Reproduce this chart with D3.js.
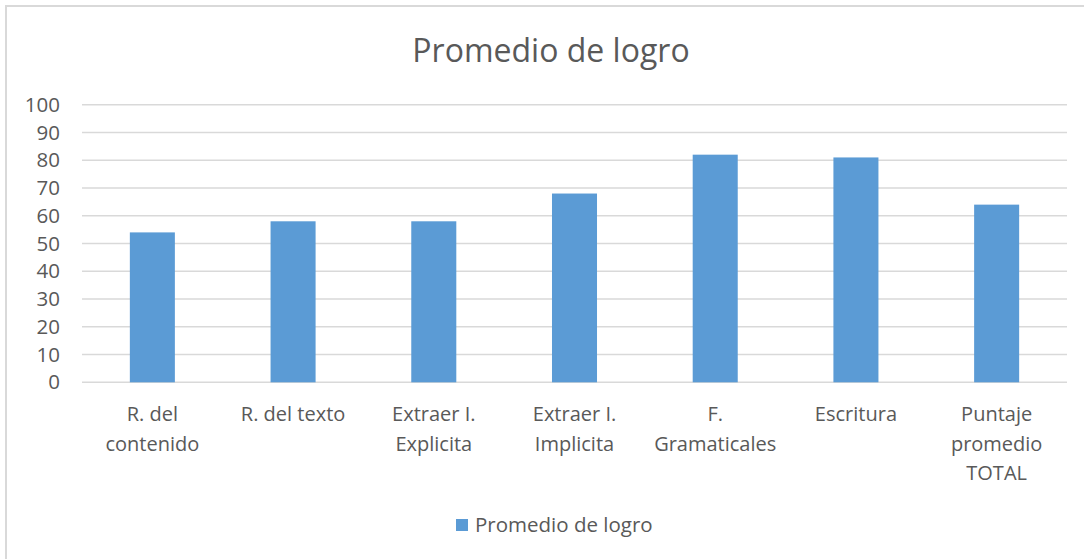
<!DOCTYPE html>
<html>
<head>
<meta charset="utf-8">
<script src="https://cdn.jsdelivr.net/npm/d3@7"></script>
<style>
  body { margin: 0; background: #fff; }
  text { font-family: "Open Sans", "Noto Sans", sans-serif; fill: #595959; }
</style>
</head>
<body>
<div class="canvas"></div>
<script>
// data
const categories = ["R. del contenido", "R. del texto", "Extraer I. Explicita", "Extraer I. Implicita", "F. Gramaticales", "Escritura", "Puntaje promedio TOTAL"];
const values = [54, 58, 58, 68, 82, 81, 64];
const yTicks = [0, 10, 20, 30, 40, 50, 60, 70, 80, 90, 100];
const seriesName = "Promedio de logro";
const chartTitle = "Promedio de logro";

const W = 1084, H = 559;
const plot = { left: 82, right: 1067, top: 104.7, bottom: 382.3 };
const barColor = "#5B9BD5";

const svg = d3.select(".canvas").append("svg")
  .attr("width", W)
  .attr("height", H);

// chart border
svg.append("rect")
  .attr("x", 6).attr("y", 6)
  .attr("width", 1091).attr("height", 570)
  .attr("fill", "#fff")
  .attr("stroke", "#d9d9d9")
  .attr("stroke-width", 2);

// title
svg.append("text")
  .attr("x", 551).attr("y", 62)
  .attr("text-anchor", "middle")
  .style("font-size", "32px")
  .text(chartTitle);

// scales
const x = d3.scaleBand()
  .domain(categories)
  .range([plot.left, plot.right])
  .paddingInner(0.68)
  .paddingOuter(0.34);
const y = d3.scaleLinear().domain([0, 100]).range([plot.bottom, plot.top]);

// gridlines
svg.append("g")
  .selectAll("line").data(yTicks).join("line")
  .attr("x1", plot.left).attr("x2", plot.right)
  .attr("y1", d => y(d)).attr("y2", d => y(d))
  .attr("stroke", "#d9d9d9")
  .attr("stroke-width", 1.5);

// y axis labels
const yAxis = d3.axisLeft(y).tickValues(yTicks).tickSize(0).tickPadding(22);
const yG = svg.append("g").attr("transform", `translate(${plot.left},0)`).call(yAxis);
yG.select(".domain").remove();
yG.selectAll("text").style("font-size", "20.5px").attr("fill", "#595959");

// bars
svg.append("g")
  .selectAll("rect").data(values).join("rect")
  .attr("x", (d, i) => x(categories[i]))
  .attr("y", d => y(d))
  .attr("width", x.bandwidth())
  .attr("height", d => y(0) - y(d))
  .attr("fill", barColor);

// x labels, wrapped
const xAxis = d3.axisBottom(x).tickSize(0).tickPadding(0);
const xG = svg.append("g").attr("transform", `translate(0,${plot.bottom})`).call(xAxis);
xG.select(".domain").remove();
xG.selectAll("text")
  .style("font-size", "20px")
  .attr("fill", "#595959")
  .each(function (d) {
    const t = d3.select(this);
    const words = d.split(" ");
    t.text(null).attr("y", 0).attr("dy", null);
    let lines = [], line = [];
    const probe = t.append("tspan");
    words.forEach(w => {
      const test = line.concat(w).join(" ");
      probe.text(test);
      if (probe.node().getComputedTextLength() > 132 && line.length) {
        lines.push(line.join(" "));
        line = [w];
      } else {
        line.push(w);
      }
    });
    lines.push(line.join(" "));
    probe.remove();
    lines.forEach((l, k) => {
      t.append("tspan").attr("x", 0).attr("y", 39 + k * 29.5).text(l);
    });
  });

// legend
const leg = svg.append("g");
leg.append("rect")
  .attr("x", 456).attr("y", 519)
  .attr("width", 12).attr("height", 12)
  .attr("fill", barColor);
leg.append("text")
  .attr("x", 475).attr("y", 532)
  .style("font-size", "20.5px")
  .text(seriesName);
</script>
</body>
</html>
